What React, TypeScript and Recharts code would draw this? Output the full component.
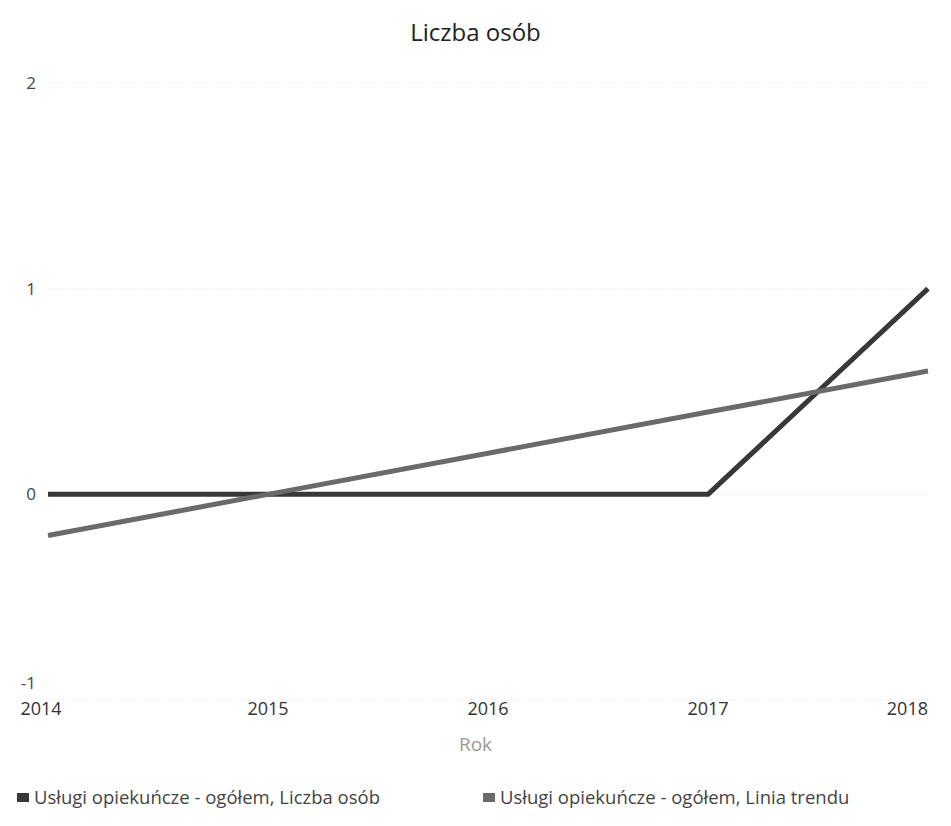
import React from "react";
import { LineChart, Line, XAxis, YAxis, CartesianGrid } from "recharts";

const years = ["2014", "2015", "2016", "2017", "2018"];
const liczbaOsob = [0, 0, 0, 0, 1];
const liniaTrendu = [-0.2, 0, 0.2, 0.4, 0.6];
const yTicks = [-1, 0, 1, 2];

const seriesNames = [
  "Usługi opiekuńcze - ogółem, Liczba osób",
  "Usługi opiekuńcze - ogółem, Linia trendu",
];
const colors = ["#383838", "#6a6a6a"];

const data = years.map((y, i) => ({ year: y, count: liczbaOsob[i], trend: liniaTrendu[i] }));

const FONT = "'Open Sans', 'Noto Sans', sans-serif";

const XTick = (props: any) => {
  const { x, y, payload, index } = props;
  const last = index === years.length - 1;
  const first = index === 0;
  return (
    <text
      x={first ? x - 7 : x}
      y={y + 2}
      dy="0.71em"
      textAnchor={last ? "end" : "middle"}
      fontFamily={FONT}
      fontSize={18}
      fill="#333"
    >
      {payload.value}
    </text>
  );
};

const YTick = (props: any) => {
  const { x, y, payload } = props;
  const shift = payload.value === -1 ? -17 : 0;
  return (
    <text x={x} y={y + shift} dy="0.355em" textAnchor="end" fontFamily={FONT} fontSize={17} fill="#444">
      {payload.value}
    </text>
  );
};

export default function App() {
  return (
    <div style={{ position: "absolute", left: 0, top: 0, width: 951, height: 826, background: "#fff" }}>
      <div
        style={{ position: "absolute", left: 0, top: 16, width: 951, textAlign: "center", fontFamily: FONT, fontSize: 24, color: "#222", lineHeight: "32px" }}
      >
        Liczba osób
      </div>
      <LineChart
        width={951}
        height={826}
        data={data}
        margin={{ top: 83, right: 23, bottom: 96, left: 0 }}
        style={{ position: "absolute", left: 0, top: 0 }}
      >
        <CartesianGrid vertical={false} stroke="#e0e0e0" strokeDasharray="1 2" />
        <XAxis
          dataKey="year"
          axisLine={false}
          tickLine={false}
          tickSize={0}
          tickMargin={0}
          height={30}
          interval={0}
          tick={<XTick />}
        />
        <YAxis
          type="number"
          domain={[-1, 2]}
          ticks={yTicks}
          axisLine={false}
          tickLine={false}
          tickSize={0}
          tickMargin={12}
          width={48}
          tick={<YTick />}
        />
        <Line dataKey="count" name={seriesNames[0]} stroke={colors[0]} strokeWidth={5} dot={false} isAnimationActive={false} strokeLinejoin="round" />
        <Line dataKey="trend" name={seriesNames[1]} stroke={colors[1]} strokeWidth={5} dot={false} isAnimationActive={false} />
      </LineChart>
      <div
        style={{ position: "absolute", left: 0, top: 731, width: 951, textAlign: "center", fontFamily: FONT, fontSize: 19, color: "#9a9a9a", lineHeight: "26px" }}
      >
        Rok
      </div>
      <div style={{ position: "absolute", left: 0, top: 785, width: 951, height: 24, fontFamily: FONT, fontSize: 18.5, color: "#444" }}>
        {seriesNames.map((n, i) => (
          <div
            key={n}
            style={{ position: "absolute", left: i === 0 ? 17 : 483, top: 0, display: "flex", alignItems: "center", whiteSpace: "nowrap", lineHeight: "24px" }}
          >
            <span style={{ display: "inline-block", width: 12, height: 9, background: colors[i], marginRight: 5 }} />
            <span>{n}</span>
          </div>
        ))}
      </div>
    </div>
  );
}
